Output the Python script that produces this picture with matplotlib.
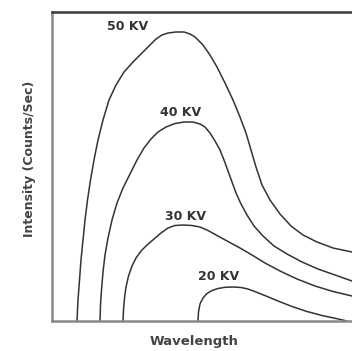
import matplotlib
matplotlib.use("Agg")
import matplotlib.pyplot as plt

# curves (x = wavelength, y = intensity, arbitrary units)
kv50_x = [25, 26, 27.5, 29, 31, 33, 35.5, 38.5, 42, 46, 51, 57, 64, 72, 81, 90, 98, 104, 110, 116,
          124, 132, 138, 143, 147, 151, 158, 165, 173, 181, 188, 194, 199, 204, 210, 218, 228, 239, 251, 265,
          281, 300]
kv50_y = [0, 21, 41, 61, 81, 101, 121, 141, 161, 181, 201, 221, 236, 249, 259, 268, 276, 282, 286, 288,
          289, 289, 287, 284, 280, 276, 266, 254, 238, 221, 204, 188, 171, 154, 136, 121, 107, 95, 86, 79,
          73, 69]

kv40_x = [48, 48.5, 49.5, 51, 53, 56, 60, 65, 71, 78, 85, 92, 99, 106, 114, 123, 132, 141, 148, 153,
          158, 163, 168, 172, 176, 180, 184, 189, 195, 202, 211, 222, 235, 250, 266, 283, 300]
kv40_y = [0, 16, 31, 49, 66, 83, 101, 118, 133, 147, 161, 173, 182, 189, 194, 197.5, 199, 199, 197, 194,
          188, 180, 171, 161, 150, 139, 128, 117, 106, 95, 85, 75, 67, 59, 52, 46, 40]

kv30_x = [71, 71.5, 72.5, 74, 76.5, 80, 84, 89, 95, 102, 109, 116, 123, 131, 140, 148, 156, 165, 176, 188,
          200, 213, 228, 245, 263, 281, 300]
kv30_y = [0, 11, 23, 34, 45, 55, 63, 70, 76, 82, 88, 93, 95.5, 96, 95.5, 94, 90.5, 85.5, 79.5, 73,
          66, 58, 50, 42, 35, 29.5, 25]

kv20_x = [146, 146.5, 148, 151, 155, 160, 166, 173, 181, 189, 196, 204, 214, 226, 240, 255, 270, 284, 295]
kv20_y = [0, 9, 17, 23, 27.5, 30.5, 32.5, 33.7, 34, 33.5, 32, 29, 25, 20, 14.5, 9.5, 5.5, 2.5, 0]

labels = ["50 KV", "40 KV", "30 KV", "20 KV"]
label_x = [55, 108, 113, 146]
label_y = [295, 208, 105, 44]

fig = plt.figure(figsize=(3.52, 3.51), dpi=100)
ax = fig.add_axes([52 / 352, 30 / 351, 302 / 352, 309 / 351])

line_kw = dict(color="#333333", linewidth=1.1, solid_capstyle="round", solid_joinstyle="round")
ax.plot(kv50_x, kv50_y, **line_kw)
ax.plot(kv40_x, kv40_y, **line_kw)
ax.plot(kv30_x, kv30_y, **line_kw)
ax.plot(kv20_x, kv20_y, **line_kw)

for txt, tx, ty in zip(labels, label_x, label_y):
    ax.text(tx, ty, txt, fontsize=9, fontweight="bold", color="#333333", va="center", ha="left")

ax.set_xlim(0, 302)
ax.set_ylim(0, 309)
ax.set_xticks([])
ax.set_yticks([])

ax.spines["right"].set_visible(False)
ax.spines["top"].set_color("#3a3a3a")
ax.spines["top"].set_linewidth(1.8)
ax.spines["left"].set_color("#888888")
ax.spines["left"].set_linewidth(1.8)
ax.spines["bottom"].set_color("#888888")
ax.spines["bottom"].set_linewidth(1.8)

ax.set_xlabel("Wavelength", fontsize=9.5, fontweight="bold", color="#444444", va="center")
ax.xaxis.set_label_coords((194 - 52) / 302, -(342 - 321) / 309)
ax.set_ylabel("Intensity (Counts/Sec)", fontsize=9, fontweight="bold", color="#444444", va="center")
ax.yaxis.set_label_coords(-(52 - 30) / 302, (321 - 159) / 309)

fig.savefig("out.png", dpi=100)
